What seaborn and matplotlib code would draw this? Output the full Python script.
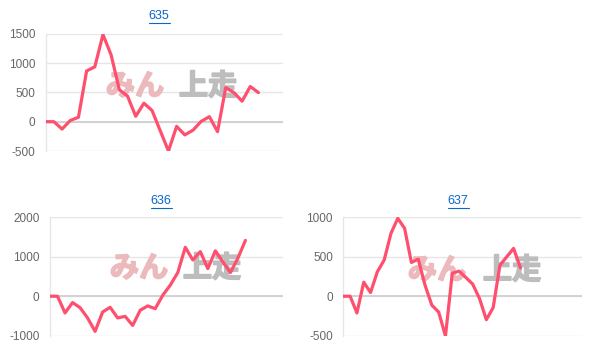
import numpy as np
import pandas as pd
import seaborn as sns
import matplotlib.pyplot as plt
import matplotlib.patheffects as pe
from matplotlib.lines import Line2D

# ---- data ----
titles = ["635", "636", "637"]
vals_635 = [0, 0, -126, 20, 75, 865, 935, 1485, 1135, 545, 435, 92, 315, 190,
            -155, -500, -80, -225, -145, 5, 85, -170, 580, 495, 350, 600, 495]
vals_636 = [0, 0, -424, -160, -290, -550, -890, -400, -280, -550, -510, -740,
            -355, -245, -315, 25, 280, 600, 1240, 920, 1130, 700, 1150, 870,
            600, 965, 1415]
vals_637 = [0, 0, -212, 178, 47, 310, 458, 797, 987, 860, 428, 470, 140, -114,
            -200, -505, 292, 318, 237, 153, -30, -297, -144, 394, 500, 606, 360]
yticks_635 = [-500, 0, 500, 1000, 1500]
yticks_636 = [-1000, 0, 1000, 2000]
yticks_637 = [-500, 0, 500, 1000]

LINE = "#ff4f6e"
GRID = "#e6e6e6"
ZERO = "#d2d2d2"
LABEL = "#666666"
LINK = "#0a66c8"
WM_PINK = "#ecb9bd"
WM_GRAY = "#bdbdbd"

sns.set_theme(style="white")
plt.rcParams['font.family'] = ['Liberation Sans', 'Noto Sans CJK JP', 'DejaVu Sans']

W, H = 609, 364
fig = plt.figure(figsize=(W / 100, H / 100), dpi=100)


def ax_at(l, t, r, b):
    return fig.add_axes([l / W, 1 - b / H, (r - l) / W, (b - t) / H])


def title_at(txt, cx, cy):
    fig.text(cx / W, 1 - cy / H, txt, ha="center", va="center",
             color=LINK, fontsize=9)
    w = 21
    fig.add_artist(Line2D([(cx - w / 2) / W, (cx + w / 2) / W],
                          [1 - (cy + 6.5) / H, 1 - (cy + 6.5) / H],
                          color=LINK, lw=0.8))


def watermark(ax, cx_pink, cx_gray, cy):
    for txt, cx, col in (("みん", cx_pink, WM_PINK), ("上走", cx_gray, WM_GRAY)):
        ax.text(cx / W, 1 - cy / H, txt, ha="center", va="center",
                transform=fig.transFigure, fontsize=21, fontweight="bold",
                color=col, family=['Noto Sans CJK JP'], zorder=2, clip_on=False,
                path_effects=[pe.withStroke(linewidth=1.2, foreground=col)])


specs = [
    (vals_635, yticks_635, (45.7, 33.7, 283, 151), 29, (159, 16), (135, 208, 86)),
    (vals_636, yticks_636, (50, 217.3, 283, 335.7), 31, (161, 201), (139, 212, 268)),
    (vals_637, yticks_637, (343.3, 217.3, 581.7, 335.7), 35, (458, 201), (437, 512, 270)),
]

for (vals, yt, box, slots, tpos, wm), title in zip(specs, titles):
    ax = ax_at(*box)
    ax.patch.set_alpha(0)
    watermark(ax, *wm)
    df = pd.DataFrame({"x": np.arange(len(vals)), "y": vals})
    sns.lineplot(data=df, x="x", y="y", ax=ax, color=LINE, lw=2.3, zorder=5)
    ax.set_xlim(0, slots)
    ax.set_ylim(yt[0], yt[-1])
    ax.set_yticks(yt)
    ax.set_yticklabels([str(v) for v in yt])
    ax.set_xticks([])
    ax.set_xlabel("")
    ax.set_ylabel("")
    for s in ["top", "right", "bottom"]:
        ax.spines[s].set_visible(False)
    ax.spines["left"].set_color(GRID)
    ax.spines["left"].set_linewidth(1)
    ax.yaxis.grid(True, color=GRID, lw=1)
    ax.set_axisbelow(True)
    ax.axhline(0, color=ZERO, lw=1.4, zorder=1)
    ax.tick_params(axis="y", length=6, width=1, color=GRID, labelcolor=LABEL,
                   labelsize=8.5, pad=1.5)
    title_at(title, *tpos)

fig.savefig("out.png", dpi=100)
